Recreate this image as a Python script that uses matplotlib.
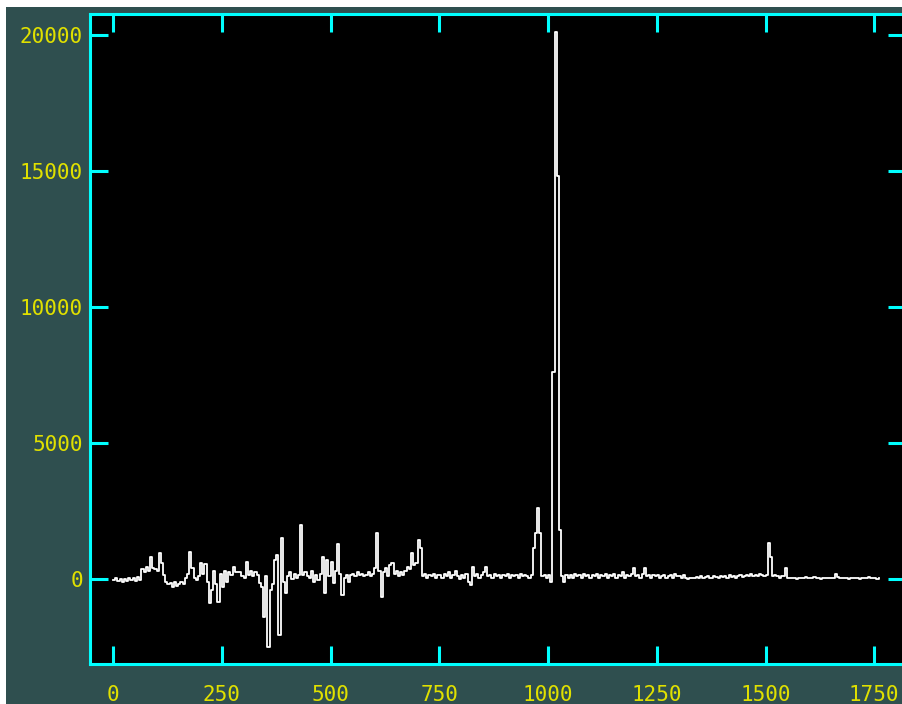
import numpy as np
import matplotlib.pyplot as plt
from matplotlib.patches import Rectangle

# spectrum sampled every 5 units of channel, from 0 to 1760
channel_step = 5
counts = [
    -20, 30, -80, 10, -100, 0, -60, 40, -50, 20,
    -60, 60, -40, 350, 250, 450, 300, 800, 400, 350,
    300, 950, 600, 150, -100, -200, -150, -300, -120, -250,
    -180, -100, -200, 30, 200, 1000, 400, 50, -50, 100,
    590, 200, 550, -100, -880, -400, 300, -200, -850, 200,
    -300, 300, -100, 250, 150, 440, 250, 250, 250, 100,
    20, 620, 150, 300, 120, 250, 150, -150, -300, -1400,
    100, -2500, -400, -200, 700, 880, -2060, 1500, -100, -500,
    100, 250, 0, 200, 50, 150, 1990, 150, 250, 100,
    50, 300, -100, 150, -50, 200, 800, -500, 700, 100,
    620, -150, 300, 1300, 200, -590, 50, 150, -100, 150,
    200, 100, 250, 150, 200, 100, 150, 250, 100, 200,
    400, 1690, 300, -660, 250, 400, 100, 500, 590, 200,
    300, 100, 250, 150, 300, 440, 350, 950, 500, 600,
    1430, 1140, 100, 200, 50, 150, 100, 200, 50, 150,
    150, 50, 200, 100, 250, 50, 150, 300, 100, 0,
    150, 50, 200, -100, -220, 440, 100, 200, 50, 150,
    250, 440, 100, 150, 50, 200, 100, 150, 50, 150,
    100, 200, 50, 150, 100, 150, 50, 200, 100, 150,
    100, 50, 150, 1140, 1700, 2600, 1700, 100, 150, 50,
    150, -100, 7600, 20100, 14800, 1800, 100, -100, 150, 50,
    150, 50, 200, 100, 150, 50, 200, 100, 150, 50,
    150, 100, 200, 50, 150, 100, 200, 50, 150, 100,
    200, 50, 150, 100, 250, 50, 150, 100, 200, 400,
    100, 150, 50, 200, 400, 100, 150, 50, 150, 100,
    150, 50, 100, 150, 50, 100, 150, 50, 200, 100,
    100, 50, 150, 50, 0, 30, 30, 30, 80, 50,
    100, 50, 80, 100, 50, 50, 100, 80, 50, 100,
    80, 100, 50, 150, 80, 100, 50, 100, 150, 80,
    100, 150, 100, 200, 100, 150, 100, 200, 150, 100,
    150, 1320, 800, 100, 150, 100, 50, 100, 100, 400,
    30, 50, 30, 50, 0, 30, 50, 30, 80, 30,
    50, 30, 80, 30, 50, 0, 50, 30, 50, 30,
    50, 30, 200, 80, 30, 30, 30, 30, 0, 30,
    30, 50, 30, 0, 30, 50, 30, 80, 30, 30, 50, 0, 30,
]
channels = np.arange(len(counts)) * channel_step

x_ticks = [0, 250, 500, 750, 1000, 1250, 1500, 1750]
y_ticks = [0, 5000, 10000, 15000, 20000]

frame = "#00ffff"
label_color = "#e0e000"

fig = plt.figure(figsize=(9.02, 7.04), dpi=100, facecolor="white")
fig.patches.append(Rectangle((6 / 902, 0), 1, 697 / 704, transform=fig.transFigure,
                             facecolor="#2f4f4f", edgecolor="none", zorder=-10))

ax = fig.add_axes([90 / 902, 40 / 704, 816 / 902, 650 / 704])
ax.set_zorder(5)
ax.set_facecolor("black")
ax.plot(channels, counts, color="white", lw=1.3, drawstyle="steps-post")

ax.set_xlim(-53, 1823)
ax.set_ylim(-3125, 20772)
ax.set_xticks(x_ticks)
ax.set_yticks(y_ticks)

for side in ax.spines.values():
    side.set_color(frame)
    side.set_linewidth(2.2)

ax.tick_params(direction="in", length=13, width=2.2, color=frame,
               top=True, right=True, labelcolor=label_color, labelsize=15)
ax.tick_params(axis="x", pad=15)
ax.tick_params(axis="y", pad=5)
for lab in ax.get_xticklabels() + ax.get_yticklabels():
    lab.set_family("DejaVu Sans Mono")

fig.savefig("out.png", dpi=100, facecolor=fig.get_facecolor())
